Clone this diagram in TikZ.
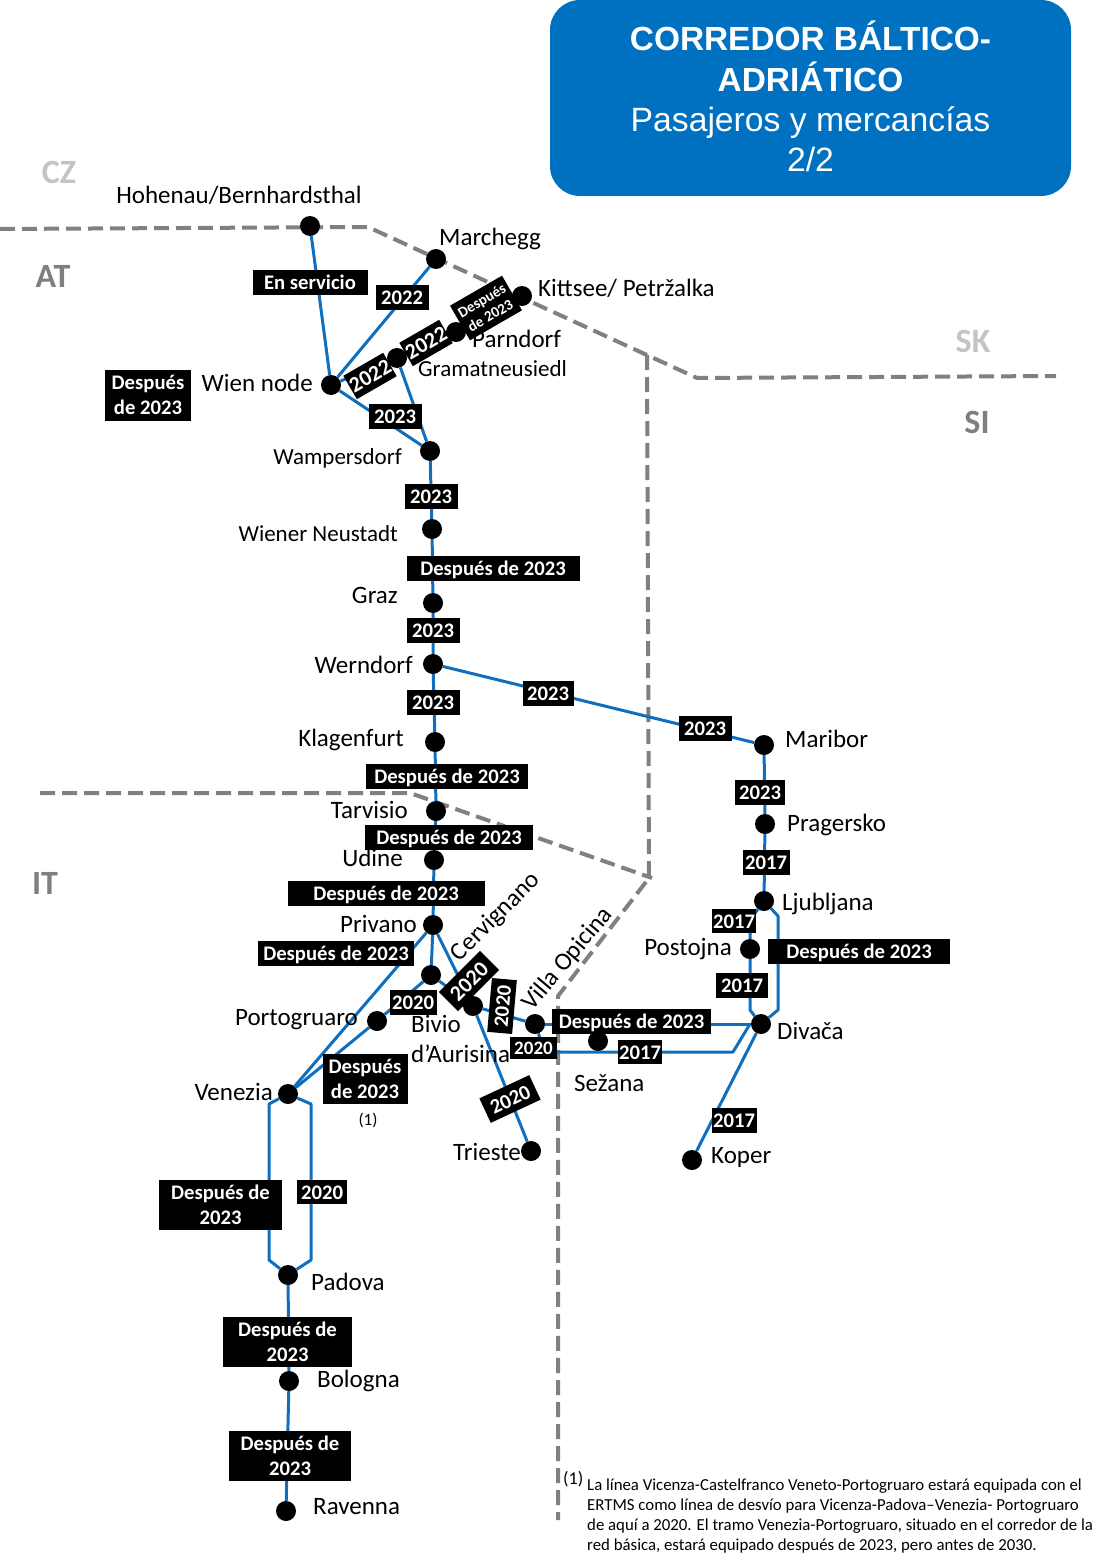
\documentclass[tikz,border=0pt]{standalone}
\usepackage{fontspec}
\setmainfont{Carlito}
\newfontfamily\titlefont{Liberation Sans}
\pgfdeclarelayer{borders}
\pgfdeclarelayer{lines}
\pgfdeclarelayer{tags}
\pgfsetlayers{borders,lines,tags,main}
\definecolor{railblue}{HTML}{0F6FBE}
\definecolor{boxblue}{HTML}{0070C0}
\definecolor{bordergrey}{HTML}{808080}
\definecolor{stategrey}{HTML}{7F7F7F}
\definecolor{statelight}{HTML}{C4C4C4}
\tikzset{
  stn/.style={circle,fill=black,inner sep=0pt,minimum size=20pt},
  tagtwo/.style={fill=black,text=white,font=\fontsize{20.7}{25}\selectfont\bfseries,inner sep=0pt,
    align=center,minimum width=#1,minimum height=50pt},
  tag/.style={tagtwo=#1,minimum height=25pt,text height=16pt,text depth=1.2pt},
  tag/.default=53pt,
  stnname/.style={font=\fontsize{25}{30}\selectfont,text=black,inner sep=0pt},
  stnsmall/.style={font=\fontsize{23}{28}\selectfont,text=black,inner sep=0pt},
  country/.style={font=\fontsize{34}{36}\selectfont\bfseries,text=stategrey,inner sep=0pt},
  rail/.style={draw=railblue,line width=3pt,line join=round},
  frontier/.style={draw=bordergrey,line width=4pt,dash pattern=on 15pt off 7pt},
}
\begin{document}
\begin{tikzpicture}[x=1pt,y=-1pt]
\useasboundingbox (0,0) rectangle (1092,1554);

% title panel
\node[fill=boxblue,rounded corners=30pt,minimum width=521pt,minimum height=196pt,inner sep=0pt] (title) at (810.5,98) {};
\node[text=white,align=center,inner sep=0pt,font=\titlefont\fontsize{33.7}{40.2}\selectfont] (titletext) at (810.5,96.5)
  {{\fontsize{33.4}{40.2}\selectfont\bfseries CORREDOR BÁLTICO-}\\{\fontsize{33.4}{40.2}\selectfont\bfseries ADRIÁTICO}\\Pasajeros y mercancías\\2/2};

% stations
\foreach \id/\px/\py in {hoh/310/226,mar/436/259,kit/522/296,par/456/332,gra/397/358,wie/331/385,
  wam/430/451,wne/432/529,grz/433/603,wer/433/664,kla/435/742,tar/436/811,udi/434/860,pri/433/925,
  cer/431/975,por/377/1021,biv/473/1006,vil/535/1024,sez/598/1041,div/761/1024,tri/531/1151,
  kop/692/1160,ven/288/1094,pad/288/1275,bol/289/1381,rav/286/1511,mab/764/745,pra/765/824,
  lju/764/901,pos/750/949}
  \node[stn] (\id) at (\px,\py) {};

% bends and free ends of the lines
\coordinate (v1) at (269,1104); \coordinate (v2) at (269,1260);
\coordinate (v3) at (311,1104); \coordinate (v4) at (311,1260);
\coordinate (l1) at (750,920);  \coordinate (l2) at (750,1010);
\coordinate (l3) at (778,916);  \coordinate (l4) at (778,1010);
\coordinate (s1) at (545,1052); \coordinate (s2) at (733,1052); \coordinate (s3) at (750,1024);
\coordinate (b1) at (0,229);    \coordinate (b2) at (368,227);  \coordinate (b3) at (697,378);
\coordinate (b4) at (1056,376); \coordinate (b5) at (647,355);  \coordinate (b6) at (649,878);
\coordinate (b7) at (558,996);  \coordinate (b8) at (558,1520); \coordinate (b9) at (40,793);
\coordinate (b10) at (410,793); \coordinate (b11) at (652,878);

\begin{pgfonlayer}{borders}
  \draw[frontier] (b1) -- (b2) -- (b3) -- (b4);
  \draw[frontier] (b5) -- (b6) -- (b7) -- (b8);
  \draw[frontier] (b9) -- (b10) -- (b11);
\end{pgfonlayer}

\begin{pgfonlayer}{lines}
  \draw[rail] (hoh) -- (wie);
  \draw[rail] (wie) -- (mar);
  \draw[rail] (wie) -- (gra) -- (par) -- (kit);
  \draw[rail] (gra) -- (wam);
  \draw[rail] (wie) -- (wam);
  \draw[rail] (wam) -- (wne) -- (grz) -- (wer) -- (kla) -- (tar) -- (udi) -- (pri);
  \draw[rail] (wer) -- (mab) -- (pra) -- (lju);
  \draw[rail] (lju) -- (l1) -- (pos) -- (l2) -- (div);
  \draw[rail] (lju) -- (l3) -- (l4) -- (div);
  \draw[rail] (div) -- (kop);
  \draw[rail] (vil) -- (div);
  \draw[rail] (vil) -- (s1) -- (s2) -- (s3);
  \draw[rail] (pri) -- (ven);
  \draw[rail] (pri) -- (cer) -- (por) -- (ven);
  \draw[rail] (cer) -- (biv) -- (vil);
  \draw[rail] (pri) -- (biv) -- (tri);
  \draw[rail] (ven) -- (v1) -- (v2) -- (pad);
  \draw[rail] (ven) -- (v3) -- (v4) -- (pad);
  \draw[rail] (pad) -- (bol) -- (rav);
\end{pgfonlayer}

% commissioning dates on the lines
\begin{pgfonlayer}{tags}
  \node[tag=115pt] (t1) at (310,282) {En servicio};
  \node[tag] (t2) at (402,297) {2022};
  \node[tagtwo=60pt,minimum height=40pt,rotate=30,font=\fontsize{15}{17}\selectfont\bfseries] (t3) at (486,308) {Después\\de 2023};
  \node[tag=46pt,minimum height=27pt,rotate=30,font=\fontsize{22}{25}\selectfont\bfseries] (t4) at (426,343) {2022};
  \node[tag=46pt,minimum height=27pt,rotate=30,font=\fontsize{22}{25}\selectfont\bfseries] (t5) at (370,376) {2022};
  \node[tag] (t6) at (395,416) {2023};
  \node[tag] (t7) at (431,496) {2023};
  \node[tag=173pt] (t8) at (493,568) {Después de 2023};
  \node[tag] (t9) at (433,630) {2023};
  \node[tag] (t10) at (433,702) {2023};
  \node[tag=51pt] (t11) at (548,693) {2023};
  \node[tag] (t12) at (705,728) {2023};
  \node[tag=162pt] (t13) at (447,776) {Después de 2023};
  \node[tag=168pt] (t14) at (449,837) {Después de 2023};
  \node[tag=197pt] (t15) at (386,893) {Después de 2023};
  \node[tag=156pt] (t16) at (336,953) {Después de 2023};
  \node[tag=47pt] (t17) at (413,1002) {2020};
  \node[tag=58pt,minimum height=27pt,rotate=45,font=\fontsize{22}{25}\selectfont\bfseries] (t18) at (469,981) {2020};
  \node[tag=54pt,minimum height=25pt,rotate=85] (t19) at (502,1006) {2020};
  \node[tagtwo=85pt] (t20) at (365,1079) {Después\\de 2023};
  \node[tag=47pt,minimum height=22pt,font=\fontsize{19}{22}\selectfont\bfseries,text height=15pt] (t21) at (533.5,1048) {2020};
  \node[tag=159pt] (t22) at (631.5,1021) {Después de 2023};
  \node[tag=44pt,minimum height=24pt] (t23) at (640,1052) {2017};
  \node[tag=45pt] (t24) at (734,1120) {2017};
  \node[tag=55pt,minimum height=27pt,rotate=25] (t25) at (510,1099) {2020};
  \node[tag=182pt] (t26) at (859,951) {Después de 2023};
  \node[tag=44pt,minimum height=24pt] (t27) at (734,921) {2017};
  \node[tag=52pt] (t28) at (742,985) {2017};
  \node[tag=47pt] (t29) at (766,862) {2017};
  \node[tag=50pt] (t30) at (760,792) {2023};
  \node[tagtwo=86pt,minimum height=51pt] (t31) at (148,395) {Después\\de 2023};
  \node[tagtwo=123pt] (t32) at (220.5,1205) {Después de\\2023};
  \node[tag=50pt,minimum height=24pt] (t33) at (322,1192) {2020};
  \node[tagtwo=129pt] (t34) at (287.5,1342) {Después de\\2023};
  \node[tagtwo=122pt] (t35) at (290,1456) {Después de\\2023};
\end{pgfonlayer}

% station names
\node[stnname,anchor=base] (n1) at (239,204) {Hohenau/Bernhardsthal};
\node[stnname,anchor=base west] (n2) at (439,246) {Marchegg};
\node[stnname,anchor=base west] (n3) at (538,296) {Kittsee/ Petržalka};
\node[stnname,anchor=base west] (n4) at (472,347) {Parndorf};
\node[stnsmall,anchor=base west] (n5) at (418,376) {Gramatneusiedl};
\node[stnname,anchor=base east] (n6) at (313,391) {Wien node};
\node[stnsmall,anchor=base east] (n7) at (402,464) {Wampersdorf};
\node[stnsmall,anchor=base east] (n8) at (398,541) {Wiener Neustadt};
\node[stnname,anchor=base east] (n9) at (398,603) {Graz};
\node[stnname,anchor=base east] (n10) at (413,673) {Werndorf};
\node[stnname,anchor=base east] (n11) at (404,746) {Klagenfurt};
\node[stnname,anchor=base east] (n12) at (408,818) {Tarvisio};
\node[stnname,anchor=base east] (n13) at (403,866) {Udine};
\node[stnname,anchor=base east] (n14) at (417,932) {Privano};
\node[stnname,anchor=base east] (n15) at (358,1025) {Portogruaro};
\node[stnname,anchor=base west] (n16) at (411,1032) {Bivio};
\node[stnname,anchor=base west] (n17) at (411,1062) {d’Aurisina};
\node[stnname,anchor=base east] (n18) at (273,1100) {Venezia};
\node[stnname,anchor=base west] (n19) at (574,1091) {Sežana};
\node[stnname,anchor=base east] (n20) at (521,1160) {Trieste};
\node[stnname,anchor=base west] (n21) at (711,1163) {Koper};
\node[stnname,anchor=base west] (n22) at (311,1290) {Padova};
\node[stnname,anchor=base west] (n23) at (317,1387) {Bologna};
\node[stnname,anchor=base west] (n24) at (313,1514) {Ravenna};
\node[stnname,anchor=base west] (n25) at (785,747) {Maribor};
\node[stnname,anchor=base west] (n26) at (787,831) {Pragersko};
\node[stnname,anchor=base west] (n27) at (782,910) {Ljubljana};
\node[stnname,anchor=base east] (n28) at (732,955) {Postojna};
\node[stnname,anchor=base west] (n29) at (777,1039) {Divača};
\node[stnname,rotate=45] (n30) at (496,917) {Cervignano};
\node[stnname,rotate=50] (n31) at (568,959) {Villa Opicina};
\node[font=\fontsize{17}{19}\selectfont,inner sep=0pt] (n32) at (368,1120) {(1)};

% countries
\node[country,text=statelight] (c1) at (59,172) {CZ};
\node[country] (c2) at (53,276) {AT};
\node[country,text=statelight] (c3) at (973,341) {SK};
\node[country] (c4) at (977,422) {SI};
\node[country] (c5) at (45,883) {IT};

% footnote
\node[font=\fontsize{18}{20}\selectfont,inner sep=0pt,anchor=north west] (f1) at (563,1471) {(1)};
\node[font=\fontsize{16.8}{20}\selectfont,inner sep=0pt,anchor=north west,align=left] (f2) at (587,1479)
  {La línea Vicenza-Castelfranco Veneto-Portogruaro estará equipada con el\\
   ERTMS como línea de desvío para Vicenza-Padova–Venezia- Portogruaro\\
   de aquí a 2020. El tramo Venezia-Portogruaro, situado en el corredor de la\\
   red básica, estará equipado después de 2023, pero antes de 2030.};
\end{tikzpicture}
\end{document}
